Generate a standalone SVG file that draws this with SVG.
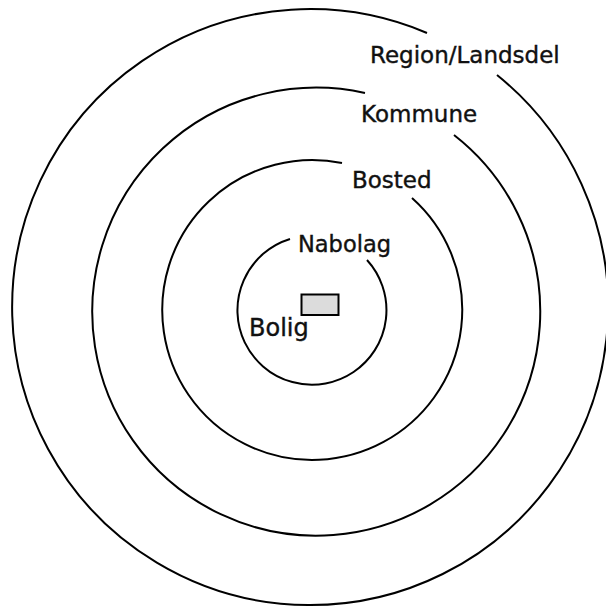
<svg xmlns="http://www.w3.org/2000/svg" width="606" height="608" viewBox="0 0 606 608">
<style>
.ring{fill:none;stroke:#000;stroke-width:2}
.lbl{font-family:"DejaVu Sans","Liberation Sans",sans-serif;fill:#111;stroke:#111;stroke-width:0.4}
</style>
<rect width="606" height="608" fill="#fff"/>
<g id="region">
<path class="ring" d="M497,75 A298,298 0 1 1 427,33"/>
<text class="lbl" x="370" y="62.5" font-size="23">Region/Landsdel</text>
</g>
<g id="kommune">
<path class="ring" d="M454,135 A224,224 0 1 1 365,93"/>
<text class="lbl" x="361" y="122" font-size="23">Kommune</text>
</g>
<g id="bosted">
<path class="ring" d="M412,198 A150,150 0 1 1 342,163"/>
<text class="lbl" x="352" y="187.5" font-size="23">Bosted</text>
</g>
<g id="nabolag">
<path class="ring" d="M367,260 A74.5,74.5 0 1 1 290,239"/>
<text class="lbl" x="298" y="252" font-size="22.5">Nabolag</text>
</g>
<g id="bolig">
<rect x="301.5" y="294.5" width="37" height="20.5" fill="#dcdcdc" stroke="#000" stroke-width="2"/>
<text class="lbl" x="249" y="335.5" font-size="24">Bolig</text>
</g>
<g id="connectors"/>
</svg>
